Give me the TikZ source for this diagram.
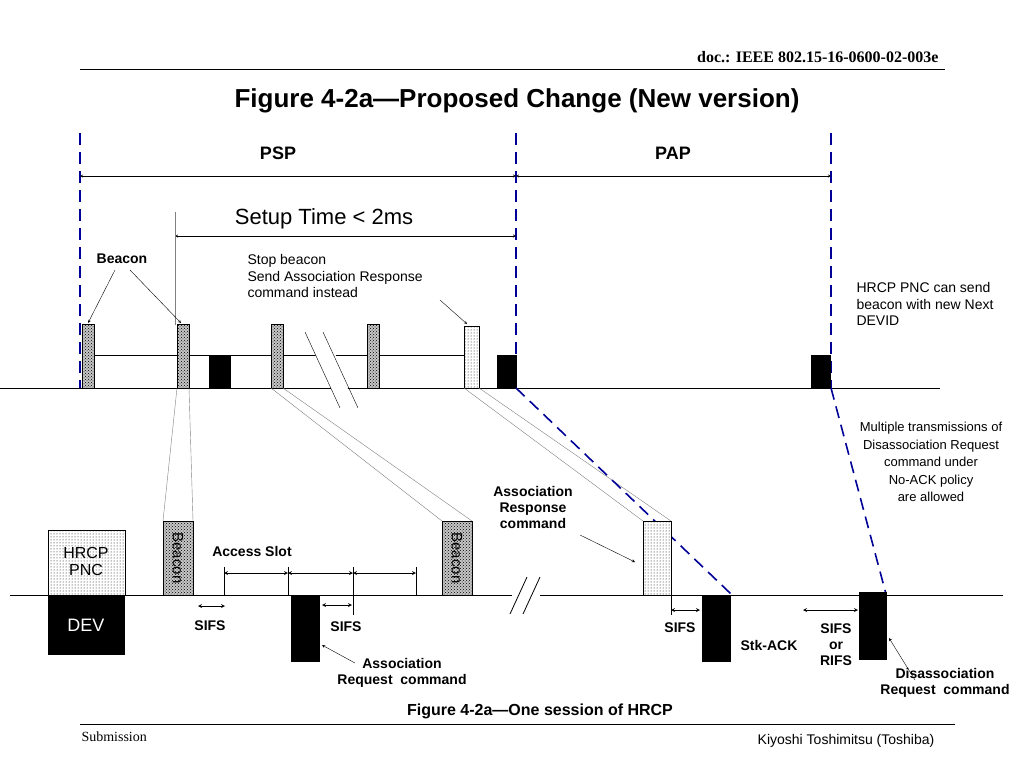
\documentclass[tikz,border=0pt]{standalone}
\usepackage{fontspec}
\setmainfont{Liberation Sans}
\newfontfamily\seriffont{Liberation Serif}
\usetikzlibrary{patterns}
\tikzset{
  bcn/.style={draw, thick, fill=gray!45, pattern color=black},
  sparse/.style={draw, thick, pattern=dots},
  blk/.style={fill=black},
  bluedash/.style={blue!60!black, line width=1.6pt, dash pattern=on 12pt off 7pt},
  lbl/.style={font=\fontsize{14}{16}\selectfont\bfseries, align=center},
  txt/.style={font=\fontsize{14}{16.5}\selectfont, align=left},
  dim/.style={<->, >=stealth, thick},
  link/.style={gray, thin}
}
\begin{document}
\begin{tikzpicture}[x=1pt, y=-1pt]
\useasboundingbox (0,0) rectangle (1024,768);
% header and footer
\draw[thick] (80,69) -- (945,69);
\node[anchor=east, font=\seriffont\fontsize{16}{18}\selectfont\bfseries] (doc) at (942,57) {doc.: IEEE 802.15-16-0600-02-003e};
\node[font=\fontsize{26}{28}\selectfont\bfseries] (title) at (517,101) {Figure 4-2a---Proposed Change (New version)};
\draw (80,724) -- (955,724);
\node[anchor=west, font=\seriffont\fontsize{14}{16}\selectfont] (sub) at (78,737) {Submission};
\node[font=\fontsize{14}{16}\selectfont] (auth) at (846,741) {Kiyoshi Toshimitsu (Toshiba)};

% period borders
\draw[bluedash] (80,133) -- (80,388);
\draw[bluedash] (516,133) -- (516,388);
\draw[bluedash] (831,133) -- (831,388);
\node[lbl, font=\fontsize{18}{20}\selectfont\bfseries] (psp) at (278,153) {PSP};
\node[lbl, font=\fontsize{18}{20}\selectfont\bfseries] (pap) at (673,153) {PAP};
\draw[<->, >=stealth] (80,176) -- (516,176);
\draw[<->, >=stealth] (516,176) -- (831,176);
\node[font=\fontsize{22}{24}\selectfont] (setup) at (324,219) {Setup Time < 2ms};
\draw[<->, >=stealth] (175,236) -- (516,236);
\draw[link] (175,212) -- (175,325);

% upper timeline
\draw[thick] (88,355) rectangle (465,388);
\draw[thick] (0,388) -- (940,388);
\foreach \x in {82,177,271,367} {
  \filldraw[bcn] (\x,324) rectangle (\x+12,388);
  \fill[pattern=crosshatch dots, pattern color=black] (\x,324) rectangle (\x+12,388);
}
\filldraw[sparse, fill=white] (464,326) rectangle (479,388);
\fill[pattern=dots] (464,326) rectangle (479,388);
\fill[blk] (209,355) rectangle (231,388);
\fill[blk] (497,355) rectangle (517,388);
\fill[blk] (811,355) rectangle (831,388);
\fill[white] (312,345) -- (332,345) -- (352,400) -- (332,400) -- cycle;
\draw (305,332) -- (340,408);
\draw (323,332) -- (358,408);
\draw[thick] (0,388) -- (305+26,388);

\node[lbl] (beacon) at (122,259) {Beacon};
\draw[->, >=stealth] (115,270) -- (88,323);
\draw[->, >=stealth] (130,270) -- (181,323);
\node[txt, anchor=north west] (stop) at (244,251) {Stop beacon\\Send Association Response\\command instead};
\draw[->, >=stealth] (440,300) -- (467,324);
\node[txt, anchor=north west] (pnc) at (853,279) {HRCP PNC can send\\beacon with new Next\\DEVID};
\node[txt, align=center, font=\fontsize{13}{17.5}\selectfont] (multi) at (931,462) {Multiple transmissions of\\Disassociation Request\\command under\\No-ACK policy\\are allowed};

% zoom links
\draw[link] (177,388) -- (163,521);
\draw[link] (189,388) -- (193,521);
\draw[link] (271,388) -- (442,521);
\draw[link] (283,388) -- (472,521);
\draw[link] (464,388) -- (643,521);
\draw[link] (479,388) -- (671,521);
\draw[bluedash] (516,388) -- (731,594);
\draw[bluedash] (831,388) -- (886,594);

% lower timeline
\draw[thick] (10,595) -- (1003,595);
\draw[thick, fill=white] (48,530) rectangle (125,595);
\fill[pattern=dots] (48,530) rectangle (125,595);
\node[font=\fontsize{16}{17}\selectfont, align=center] (hrcp) at (86,561) {HRCP\\PNC};
\fill[blk] (48,595) rectangle (125,655);
\node[white, font=\fontsize{18}{20}\selectfont] (dev) at (86,625) {DEV};
\foreach \x/\n in {163/b1,442/b2} {
  \filldraw[bcn] (\x,521) rectangle (\x+30,595);
  \fill[pattern=crosshatch dots] (\x,521) rectangle (\x+30,595);
  \node[rotate=-90, font=\fontsize{15}{16}\selectfont] (\n) at (\x+15,558) {Beacon};
}
\node[lbl] (slot) at (252,551) {Access Slot};
\foreach \x in {224,288,353,416} \draw[thick] (\x,567) -- (\x,595);
\draw[thick] (353,595) -- (353,615);
\draw[dim] (224,573) -- (288,573);
\draw[dim] (288,573) -- (353,573);
\draw[dim] (353,573) -- (416,573);
\draw[dim] (198,606) -- (225,606);
\node[lbl] (sifsa) at (210,626) {SIFS};
\draw[dim] (322,605) -- (352,605);
\node[lbl] (sifsb) at (346,627) {SIFS};
\fill[blk] (291,595) rectangle (320,662);
\node[lbl] (areq) at (402,673) {Association\\Request~ command};
\draw[->, >=stealth] (355,663) -- (322,645);

\node[lbl] (aresp) at (533,507) {Association\\Response\\command};
\draw[->, >=stealth] (580,535) -- (635,562);
\draw[thick, fill=white] (643,521) rectangle (671,595);
\fill[pattern=dots] (643,521) rectangle (671,595);
\draw[thick] (671,595) -- (671,615);
\draw[dim] (671,610) -- (700,610);
\node[lbl] (sifsc) at (680,628) {SIFS};
\fill[blk] (702,595) rectangle (731,662);
\node[lbl] (ack) at (769,645) {Stk-ACK};
\draw[dim] (803,610) -- (858,610);
\node[lbl] (rifs) at (836,645) {SIFS\\or\\RIFS};
\fill[blk] (859,592) rectangle (887,660);
\draw[->, >=stealth] (915,680) -- (889,638);
\node[lbl] (dreq) at (945,683) {Disassociation\\Request~ command};

% break marks
\fill[white] (512,575) rectangle (540,615);
\draw[thick] (510,614) -- (527,577);
\draw[thick] (523,614) -- (540,577);

\node[lbl, font=\fontsize{16}{18}\selectfont\bfseries] (cap) at (540,711) {Figure 4-2a---One session of HRCP};
\end{tikzpicture}
\end{document}
